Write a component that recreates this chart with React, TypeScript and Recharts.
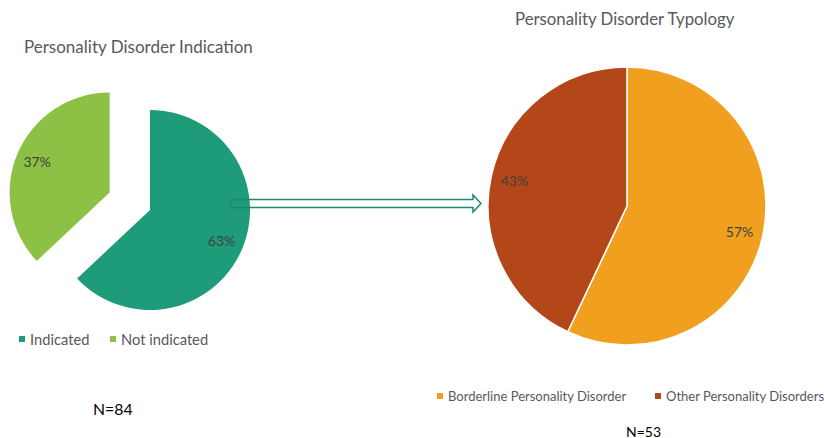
import { PieChart, Pie, Cell } from 'recharts'

const indicationNames = ['Indicated', 'Not indicated']
const indicationValues = [63, 37]
const typologyNames = ['Borderline Personality Disorder', 'Other Personality Disorders']
const typologyValues = [57, 43]

const indicationColors = ['#1e9b78', '#8dc145']
const typologyColors = ['#f0a01e', '#b4471a']

const RADIAN = Math.PI / 180
const font = 'Lato, "Open Sans", sans-serif'

const indicationData = indicationNames.map((name, i) => ({ name, value: indicationValues[i] }))
const typologyData = typologyNames.map((name, i) => ({ name, value: typologyValues[i] }))

// explode the "Not indicated" slice outwards along its mid angle
const total = indicationValues.reduce((a, b) => a + b, 0)
const explodeMid = 90 - (360 * (indicationValues[0] + indicationValues[1] / 2)) / total
const explode = 44
const leftCx = 150
const leftCy = 210
const expCx = leftCx + explode * Math.cos(explodeMid * RADIAN)
const expCy = leftCy - explode * Math.sin(explodeMid * RADIAN)

function makeLabel(show: number | null, ratio: number) {
  return (p: any) => {
    if (show !== null && p.index !== show) return null
    const r = p.outerRadius * ratio
    const x = p.cx + r * Math.cos(-p.midAngle * RADIAN)
    const y = p.cy + r * Math.sin(-p.midAngle * RADIAN)
    return (
      <text x={x} y={y} textAnchor="middle" dominantBaseline="central" fill="#404040" fontSize={14} fontFamily={font}>
        {`${Math.round(p.percent * 100)}%`}
      </text>
    )
  }
}

function LegendItem({ x, y, color, text, size }: { x: number; y: number; color: string; text: string; size: number }) {
  return (
    <g>
      <rect x={x} y={y - 3} width={6} height={6} fill={color} />
      <text x={x + 11} y={y} dominantBaseline="central" fill="#595959" fontSize={size} fontFamily={font}>{text}</text>
    </g>
  )
}

export default function App() {
  return (
    <div style={{ position: 'absolute', left: 0, top: 0, width: 824, height: 438, background: '#fff' }}>
      <PieChart width={824} height={438} margin={{ top: 0, right: 0, bottom: 0, left: 0 }} style={{ position: 'absolute', left: 0, top: 0 }}>
        <Pie
          data={indicationData}
          dataKey="value"
          cx={leftCx}
          cy={leftCy}
          outerRadius={100}
          startAngle={90}
          endAngle={-270}
          stroke="none"
          labelLine={false}
          label={makeLabel(0, 0.78)}
          isAnimationActive={false}
        >
          {indicationData.map((d, i) => (
            <Cell key={d.name} fill={i === 0 ? indicationColors[0] : 'transparent'} />
          ))}
        </Pie>
        <Pie
          data={indicationData}
          dataKey="value"
          cx={expCx}
          cy={expCy}
          outerRadius={100}
          startAngle={90}
          endAngle={-270}
          stroke="none"
          labelLine={false}
          label={makeLabel(1, 0.79)}
          isAnimationActive={false}
        >
          {indicationData.map((d, i) => (
            <Cell key={d.name} fill={i === 1 ? indicationColors[1] : 'transparent'} />
          ))}
        </Pie>
        <Pie
          data={typologyData}
          dataKey="value"
          cx={627}
          cy={206}
          outerRadius={139}
          startAngle={90}
          endAngle={-270}
          stroke="#fff"
          strokeWidth={1.5}
          labelLine={false}
          label={makeLabel(null, 0.83)}
          isAnimationActive={false}
        >
          {typologyData.map((d, i) => (
            <Cell key={d.name} fill={typologyColors[i]} />
          ))}
        </Pie>
      </PieChart>
      <svg width={824} height={438} style={{ position: 'absolute', left: 0, top: 0, pointerEvents: 'none' }}>
        <text x={24} y={46} dominantBaseline="central" fill="#595959" fontSize={17} fontFamily={font}>
          Personality Disorder Indication
        </text>
        <text x={515} y={18} dominantBaseline="central" fill="#595959" fontSize={16.8} fontFamily={font}>
          Personality Disorder Typology
        </text>
        <path
          d="M230.5,199.5 L473,199.5 L473,195 L481,203.5 L473,212 L473,207.5 L230.5,207.5 Z"
          fill="none"
          stroke="#1f8a6b"
          strokeWidth={1.5}
        />
        <LegendItem x={19} y={339} size={14.7} color={indicationColors[0]} text={indicationNames[0]} />
        <LegendItem x={110} y={339} size={14.7} color={indicationColors[1]} text={indicationNames[1]} />
        <LegendItem x={437} y={396} size={13} color={typologyColors[0]} text={typologyNames[0]} />
        <LegendItem x={655} y={396} size={13} color={typologyColors[1]} text={typologyNames[1]} />
        <text x={93} y={408} dominantBaseline="central" fill="#000" fontSize={15.8} fontFamily={font}>N=84</text>
        <text x={626} y={431} dominantBaseline="central" fill="#000" fontSize={14} fontFamily={font}>N=53</text>
      </svg>
    </div>
  )
}
